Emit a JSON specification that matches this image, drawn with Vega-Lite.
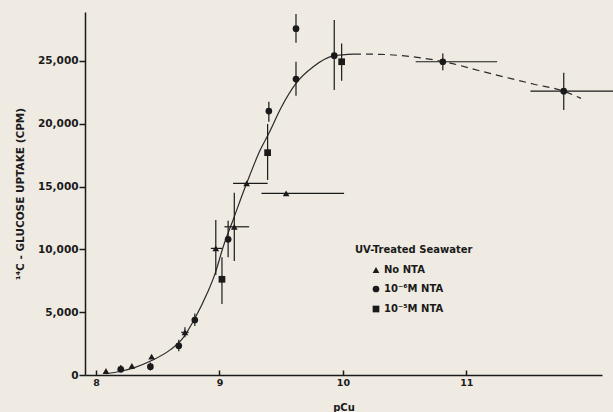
{
  "$schema": "https://vega.github.io/schema/vega-lite/v6.json",
  "width": 517,
  "height": 363,
  "autosize": "none",
  "padding": {"left": 85, "top": 12, "right": 11, "bottom": 37},
  "background": "#efeae2",
  "config": {
    "view": {"stroke": null},
    "font": "DejaVu Sans",
    "axis": {"domainColor": "#1a1a1a", "tickColor": "#1a1a1a", "labelColor": "#1a1a1a", "titleColor": "#1a1a1a", "grid": false, "labelFont": "DejaVu Sans", "labelFontWeight": "bold", "labelFontSize": 9.5, "titleFont": "DejaVu Sans", "titleFontWeight": "bold", "titleFontSize": 9, "domainWidth": 1.5, "tickWidth": 1.5}
  },
  "datasets": {
    "pts": [
      {"pcu": 8.08, "cpm": 320, "group": "No NTA"},
      {"pcu": 8.29, "cpm": 720, "group": "No NTA"},
      {"pcu": 8.45, "cpm": 1460, "group": "No NTA"},
      {"pcu": 8.72, "cpm": 3400, "group": "No NTA", "ylo": 3000, "yhi": 3800, "xlo": 8.69, "xhi": 8.75},
      {"pcu": 8.97, "cpm": 10080, "group": "No NTA", "ylo": 7960, "yhi": 12340, "xlo": 8.93, "xhi": 9.02},
      {"pcu": 9.12, "cpm": 11800, "group": "No NTA", "ylo": 9070, "yhi": 14510, "xlo": 9.04, "xhi": 9.24},
      {"pcu": 9.22, "cpm": 15260, "group": "No NTA", "xlo": 9.11, "xhi": 9.39},
      {"pcu": 9.54, "cpm": 14460, "group": "No NTA", "xlo": 9.34, "xhi": 10.01},
      {"pcu": 8.2, "cpm": 450, "group": "10⁻⁶M NTA", "ylo": 250, "yhi": 800},
      {"pcu": 8.44, "cpm": 660, "group": "10⁻⁶M NTA", "ylo": 350, "yhi": 1000},
      {"pcu": 8.67, "cpm": 2330, "group": "10⁻⁶M NTA", "ylo": 1900, "yhi": 2800},
      {"pcu": 8.8, "cpm": 4380, "group": "10⁻⁶M NTA", "ylo": 3900, "yhi": 4900},
      {"pcu": 9.07, "cpm": 10800, "group": "10⁻⁶M NTA", "ylo": 9370, "yhi": 12280},
      {"pcu": 9.4, "cpm": 21010, "group": "10⁻⁶M NTA", "ylo": 20160, "yhi": 21760},
      {"pcu": 9.62, "cpm": 23560, "group": "10⁻⁶M NTA", "ylo": 22230, "yhi": 24940},
      {"pcu": 9.62, "cpm": 27570, "group": "10⁻⁶M NTA", "ylo": 26450, "yhi": 28740},
      {"pcu": 9.93, "cpm": 25420, "group": "10⁻⁶M NTA", "ylo": 22690, "yhi": 28260},
      {"pcu": 10.81, "cpm": 24940, "group": "10⁻⁶M NTA", "ylo": 24260, "yhi": 25600, "xlo": 10.59, "xhi": 11.25},
      {"pcu": 11.79, "cpm": 22600, "group": "10⁻⁶M NTA", "ylo": 21100, "yhi": 24060, "xlo": 11.52, "xhi": 12.3},
      {"pcu": 9.02, "cpm": 7620, "group": "10⁻⁵M NTA", "ylo": 5650, "yhi": 9370},
      {"pcu": 9.39, "cpm": 17700, "group": "10⁻⁵M NTA", "ylo": 15520, "yhi": 19980},
      {"pcu": 9.99, "cpm": 24940, "group": "10⁻⁵M NTA", "ylo": 23430, "yhi": 26400}
    ],
    "solid": [
      {"pcu": 8.08, "cpm": 100}, {"pcu": 8.2, "cpm": 300}, {"pcu": 8.3, "cpm": 550},
      {"pcu": 8.45, "cpm": 1150}, {"pcu": 8.6, "cpm": 2000}, {"pcu": 8.7, "cpm": 2900},
      {"pcu": 8.8, "cpm": 4500}, {"pcu": 8.9, "cpm": 6500}, {"pcu": 8.965, "cpm": 8090},
      {"pcu": 9.03, "cpm": 10210}, {"pcu": 9.11, "cpm": 12340}, {"pcu": 9.22, "cpm": 15260},
      {"pcu": 9.33, "cpm": 17910}, {"pcu": 9.4, "cpm": 19240}, {"pcu": 9.5, "cpm": 21300},
      {"pcu": 9.62, "cpm": 23220}, {"pcu": 9.76, "cpm": 24540}, {"pcu": 9.93, "cpm": 25420},
      {"pcu": 10.09, "cpm": 25550}
    ],
    "dashed": [
      {"pcu": 10.09, "cpm": 25550}, {"pcu": 10.3, "cpm": 25530}, {"pcu": 10.5, "cpm": 25400},
      {"pcu": 10.82, "cpm": 24940}, {"pcu": 11.14, "cpm": 24140}, {"pcu": 11.55, "cpm": 23150},
      {"pcu": 11.79, "cpm": 22600}, {"pcu": 11.93, "cpm": 22020}
    ]
  },
  "layer": [
    {
      "data": {"name": "solid"},
      "mark": {"type": "line", "interpolate": "monotone", "color": "#2a2a2a", "strokeWidth": 1.2},
      "encoding": {
        "x": {"field": "pcu", "type": "quantitative", "scale": {"domain": [7.91, 12.1], "nice": false, "zero": false},
          "axis": {"values": [8, 9, 10, 11], "format": "d", "title": "pCu", "tickSize": -5, "labelPadding": 7, "titlePadding": 16, "titleFontSize": 10}},
        "y": {"field": "cpm", "type": "quantitative", "scale": {"domain": [0, 28900], "nice": false},
          "axis": {"values": [0, 5000, 10000, 15000, 20000, 25000], "format": ",.0f", "tickSize": 6, "labelPadding": 1, "labelFontSize": 10.5, "title": "¹⁴C - GLUCOSE UPTAKE (CPM)", "titleFontSize": 10.5, "titlePadding": 12}}
      }
    },
    {
      "data": {"name": "dashed"},
      "mark": {"type": "line", "interpolate": "monotone", "color": "#2a2a2a", "strokeWidth": 1.2, "strokeDash": [7, 5]},
      "encoding": {
        "x": {"field": "pcu", "type": "quantitative"},
        "y": {"field": "cpm", "type": "quantitative"}
      }
    },
    {
      "data": {"name": "pts"},
      "transform": [{"filter": "isValid(datum.ylo)"}],
      "mark": {"type": "rule", "color": "#1a1a1a", "strokeWidth": 1.2, "clip": false},
      "encoding": {
        "x": {"field": "pcu", "type": "quantitative"},
        "y": {"field": "ylo", "type": "quantitative"},
        "y2": {"field": "yhi"}
      }
    },
    {
      "data": {"name": "pts"},
      "transform": [{"filter": "isValid(datum.xlo)"}],
      "mark": {"type": "rule", "color": "#1a1a1a", "strokeWidth": 1.2, "clip": false},
      "encoding": {
        "y": {"field": "cpm", "type": "quantitative"},
        "x": {"field": "xlo", "type": "quantitative"},
        "x2": {"field": "xhi"}
      }
    },
    {
      "data": {"name": "pts"},
      "mark": {"type": "point", "filled": true, "opacity": 1, "size": 45},
      "encoding": {
        "x": {"field": "pcu", "type": "quantitative"},
        "y": {"field": "cpm", "type": "quantitative"},
        "shape": {"field": "group", "type": "nominal",
          "scale": {"domain": ["No NTA", "10⁻⁶M NTA", "10⁻⁵M NTA"], "range": ["triangle-up", "circle", "square"]},
          "legend": {"title": "UV-Treated Seawater", "orient": "none", "legendX": 270, "legendY": 233,
            "titleFont": "DejaVu Sans", "titleFontWeight": "bold", "titleFontSize": 10, "titleColor": "#1a1a1a", "titlePadding": 10,
            "labelFont": "DejaVu Sans", "labelFontWeight": "bold", "labelFontSize": 10, "labelColor": "#1a1a1a",
            "symbolFillColor": "#1a1a1a", "symbolStrokeColor": "#1a1a1a", "symbolSize": 45, "symbolOffset": 16, "rowPadding": 6, "labelOffset": 3}},
        "color": {"value": "#1a1a1a"}
      }
    }
  ]
}
